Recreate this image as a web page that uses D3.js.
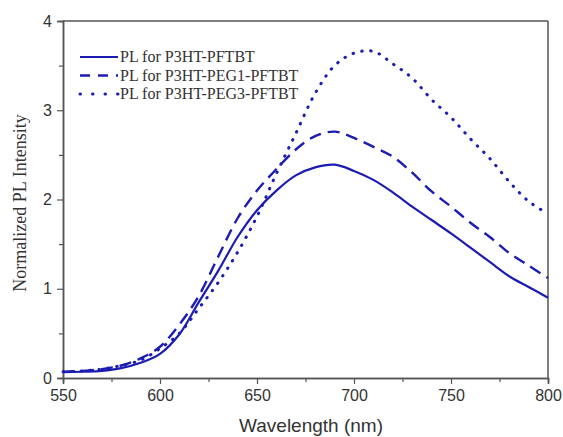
<!DOCTYPE html>
<html>
<head>
<meta charset="utf-8">
<script src="https://cdn.jsdelivr.net/npm/d3@7"></script>
<style>
  html, body { margin: 0; padding: 0; background: #fff; }
  svg { display: block; }
</style>
</head>
<body>
<svg id="chart" width="563" height="437"></svg>
<script>
// wavelength grid (nm)
const wavelengths = [550, 560, 570, 580, 590, 600, 610, 620, 630, 640, 650, 660, 670, 680, 690, 700, 710, 720, 730, 740, 750, 760, 770, 780, 790, 800];
const plP3HT = [0.065, 0.07, 0.08, 0.11, 0.17, 0.27, 0.49, 0.85, 1.2, 1.58, 1.88, 2.1, 2.27, 2.36, 2.39, 2.32, 2.22, 2.08, 1.92, 1.77, 1.62, 1.46, 1.3, 1.14, 1.02, 0.9];
const plPEG1 = [0.07, 0.08, 0.1, 0.14, 0.22, 0.35, 0.6, 0.92, 1.36, 1.79, 2.1, 2.34, 2.56, 2.71, 2.76, 2.69, 2.59, 2.48, 2.3, 2.09, 1.92, 1.74, 1.58, 1.4, 1.26, 1.12];
const plPEG3 = [0.07, 0.08, 0.1, 0.14, 0.2, 0.33, 0.5, 0.78, 1.07, 1.41, 1.81, 2.29, 2.74, 3.19, 3.5, 3.64, 3.66, 3.52, 3.36, 3.12, 2.92, 2.68, 2.46, 2.2, 1.98, 1.84];
const seriesNames = ['PL for P3HT-PFTBT', 'PL for P3HT-PEG1-PFTBT', 'PL for P3HT-PEG3-PFTBT'];
const xTicks = [550, 600, 650, 700, 750, 800];
const yTicks = [0, 1, 2, 3, 4];

const svg = d3.select('#chart');
const margin = { top: 21, right: 15, bottom: 59, left: 63 };
const width = 563, height = 437;
const x = d3.scaleLinear().domain([550, 800]).range([margin.left, width - margin.right]);
const y = d3.scaleLinear().domain([0, 4]).range([height - margin.bottom, margin.top]);
const axisColor = '#555';
const lineColor = '#1c1cb4';
const sans = 'Liberation Sans, Arial, sans-serif';
const serif = 'Liberation Serif, Times New Roman, serif';

// frame top / right
svg.append('line').attr('x1', x(550)).attr('x2', x(800)).attr('y1', y(4)).attr('y2', y(4))
  .attr('stroke', axisColor).attr('stroke-width', 1.5);
svg.append('line').attr('x1', x(800)).attr('x2', x(800)).attr('y1', y(4)).attr('y2', y(0))
  .attr('stroke', axisColor).attr('stroke-width', 1.5);

// minor + major ticks
svg.append('g').attr('transform', `translate(0,${y(0)})`)
  .call(d3.axisBottom(x).tickValues(d3.range(575, 800, 50)).tickSize(4).tickFormat(''));
svg.append('g').attr('transform', `translate(0,${y(0)})`)
  .call(d3.axisBottom(x).tickValues(xTicks).tickSize(6).tickPadding(6).tickFormat(d3.format('d')));
svg.append('g').attr('transform', `translate(${x(550)},0)`)
  .call(d3.axisLeft(y).tickValues([0.5, 1.5, 2.5, 3.5]).tickSize(4).tickFormat(''));
svg.append('g').attr('transform', `translate(${x(550)},0)`)
  .call(d3.axisLeft(y).tickValues(yTicks).tickSize(6).tickPadding(5).tickFormat(d3.format('d')));

svg.selectAll('.domain').attr('stroke', axisColor).attr('stroke-width', 1.5);
svg.selectAll('.tick line').attr('stroke', axisColor).attr('stroke-width', 1.2);
svg.selectAll('.tick text').attr('fill', '#333').attr('font-family', sans).attr('font-size', 16);

// axis titles
svg.append('text').attr('x', 311).attr('y', 432).attr('text-anchor', 'middle')
  .attr('font-family', sans).attr('font-size', 19).attr('fill', '#333')
  .text('Wavelength (nm)');
svg.append('text').attr('transform', 'translate(26,203) rotate(-90)').attr('text-anchor', 'middle')
  .attr('font-family', serif).attr('font-size', 18).attr('fill', '#333')
  .text('Normalized PL Intensity');

// curves
const widths = [2.2, 2.4, 3];
const dashes = [null, '12,7', '0.5,8.5'];
const allSeries = [plP3HT, plPEG1, plPEG3];
const line = d3.line().x(d => x(d[0])).y(d => y(d[1])).curve(d3.curveCatmullRom);
allSeries.forEach((vals, i) => {
  svg.append('path')
    .datum(wavelengths.map((w, j) => [w, vals[j]]))
    .attr('d', line)
    .attr('fill', 'none')
    .attr('stroke', lineColor)
    .attr('stroke-width', widths[i])
    .attr('stroke-linecap', i === 2 ? 'round' : 'butt')
    .attr('stroke-dasharray', dashes[i]);
});

// legend
const legend = svg.append('g');
seriesNames.forEach((name, i) => {
  const ly = 57 + i * 18.5;
  legend.append('line').attr('x1', 80).attr('x2', 118).attr('y1', ly).attr('y2', ly)
    .attr('stroke', lineColor).attr('stroke-width', widths[i])
    .attr('stroke-linecap', i === 2 ? 'round' : 'butt')
    .attr('stroke-dasharray', i === 0 ? null : (i === 1 ? '10,8' : '0.5,12'));
  legend.append('text').attr('x', 120).attr('y', ly + 5)
    .attr('font-family', serif).attr('font-size', 16).attr('fill', '#333')
    .text(name);
});
</script>
</body>
</html>
